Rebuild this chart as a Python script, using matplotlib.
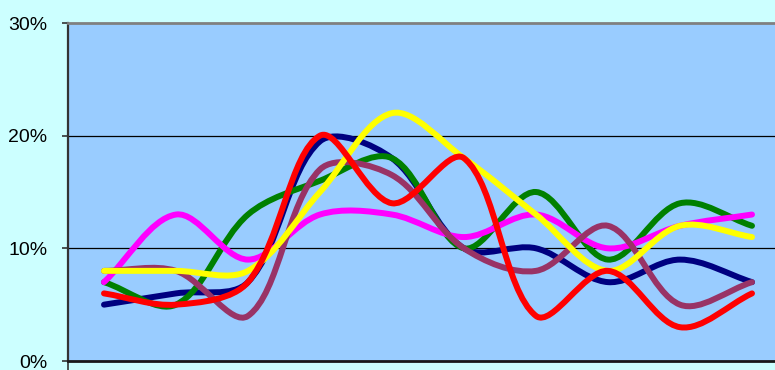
import matplotlib
matplotlib.use("Agg")
import numpy as np
import matplotlib.pyplot as plt
from matplotlib.path import Path
from matplotlib.patches import PathPatch
from matplotlib.ticker import FuncFormatter

# ten categories, values in percent
categories = list(range(10))
navy = [5, 6, 7, 19.5, 18, 10, 10, 7, 9, 7]
green = [7, 5, 13, 16, 18, 10, 15, 9, 14, 12]
magenta = [7, 13, 9, 13, 13, 11, 13, 10, 12, 13]
plum = [8, 8, 4, 17, 16.5, 10, 8, 12, 5, 7]
yellow = [8, 8, 8, 15, 22, 18, 13, 8, 12, 11]
red = [6, 5, 7, 20, 14, 18, 4, 8, 3, 6]

series = [
    (navy, "#000080"),
    (green, "#008000"),
    (magenta, "#FF00FF"),
    (plum, "#993366"),
    (yellow, "#FFFF00"),
    (red, "#FF0000"),
]


def smooth_path(ax, xs, ys):
    # bezier segments, control arms weighted by chord length on screen
    pts = ax.transData.transform(np.column_stack([xs, ys]))
    n = len(pts)
    verts = [pts[0]]
    codes = [Path.MOVETO]
    for i in range(n - 1):
        p0 = pts[max(i - 1, 0)]
        p1 = pts[i]
        p2 = pts[i + 1]
        p3 = pts[min(i + 2, n - 1)]
        d01 = np.hypot(*(p1 - p0))
        d12 = np.hypot(*(p2 - p1))
        d23 = np.hypot(*(p3 - p2))
        f1 = d12 / (d01 + d12) / 3 if d01 + d12 > 0 else 0
        f2 = d12 / (d12 + d23) / 3 if d12 + d23 > 0 else 0
        c1 = p1 + (p2 - p0) * f1
        c2 = p2 - (p3 - p1) * f2
        verts += [c1, c2, p2]
        codes += [Path.CURVE4] * 3
    verts = ax.transData.inverted().transform(np.array(verts))
    return Path(verts, codes)


plt.rcParams['font.family'] = ['Liberation Sans', 'DejaVu Sans']

fig = plt.figure(figsize=(7.75, 3.7), dpi=100, facecolor="#CCFFFF")
ax = fig.add_axes([68 / 775, 9 / 370, 720 / 775, 338 / 370])
ax.set_facecolor("#99CCFF")
ax.set_xlim(-0.5, 9.5)
ax.set_ylim(0, 30)

for values, color in series:
    patch = PathPatch(smooth_path(ax, categories, values), fill=False,
                      edgecolor=color, linewidth=4.3, capstyle="round",
                      joinstyle="round", zorder=3)
    ax.add_patch(patch)

ax.set_yticks([0, 10, 20, 30])
ax.yaxis.set_major_formatter(FuncFormatter(lambda v, p: f"{v:.0f}%"))
ax.tick_params(axis="y", direction="out", length=4, width=1.2, color="#333333",
               labelsize=14, pad=11)
ax.set_xticks([-0.5])
ax.tick_params(axis="x", direction="out", length=8, width=1.2, color="#333333",
               labelbottom=False)

for v in (10, 20):
    ax.axhline(v, color="black", linewidth=0.9, zorder=1)

ax.spines["top"].set_color("#808080")
ax.spines["top"].set_linewidth(2)
ax.spines["left"].set_color("#333333")
ax.spines["left"].set_linewidth(1.6)
ax.spines["bottom"].set_color("#1a1a1a")
ax.spines["bottom"].set_linewidth(2)
ax.spines["right"].set_visible(False)

fig.savefig("out.png", dpi=100, facecolor=fig.get_facecolor())
